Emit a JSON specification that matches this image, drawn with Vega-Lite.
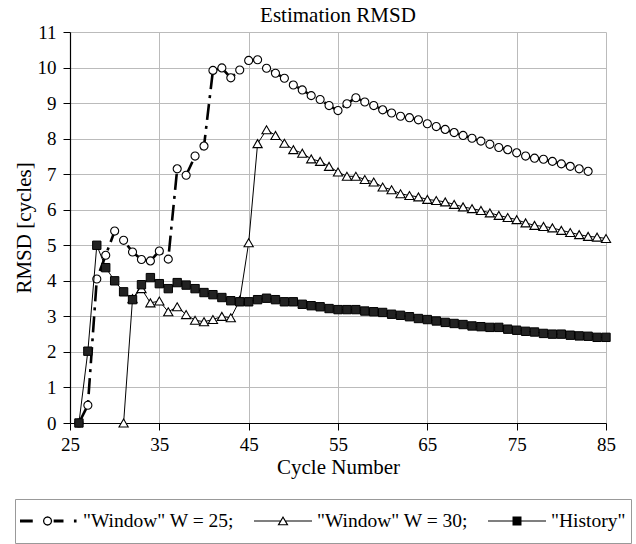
{
  "$schema": "https://vega.github.io/schema/vega-lite/v6.json",
  "width": 536,
  "height": 391,
  "autosize": {"type": "none"},
  "padding": {"left": 70, "top": 32, "right": 30, "bottom": 121},
  "background": "white",
  "config": {"view": {"stroke": null}},
  "title": {"text": "Estimation RMSD", "font": "Liberation Serif", "fontSize": 21, "fontWeight": "normal", "color": "black", "anchor": "middle", "offset": -3},
  "datasets": {
    "rmsd": [
      {"cycle": 26, "series": "\"Window\" W = 25;", "rmsd": 0},
      {"cycle": 27, "series": "\"Window\" W = 25;", "rmsd": 0.5},
      {"cycle": 28, "series": "\"Window\" W = 25;", "rmsd": 4.05},
      {"cycle": 29, "series": "\"Window\" W = 25;", "rmsd": 4.72},
      {"cycle": 30, "series": "\"Window\" W = 25;", "rmsd": 5.4},
      {"cycle": 31, "series": "\"Window\" W = 25;", "rmsd": 5.14},
      {"cycle": 32, "series": "\"Window\" W = 25;", "rmsd": 4.81},
      {"cycle": 33, "series": "\"Window\" W = 25;", "rmsd": 4.6},
      {"cycle": 34, "series": "\"Window\" W = 25;", "rmsd": 4.56},
      {"cycle": 35, "series": "\"Window\" W = 25;", "rmsd": 4.84},
      {"cycle": 36, "series": "\"Window\" W = 25;", "rmsd": 4.61},
      {"cycle": 37, "series": "\"Window\" W = 25;", "rmsd": 7.15},
      {"cycle": 38, "series": "\"Window\" W = 25;", "rmsd": 6.97},
      {"cycle": 39, "series": "\"Window\" W = 25;", "rmsd": 7.51},
      {"cycle": 40, "series": "\"Window\" W = 25;", "rmsd": 7.79},
      {"cycle": 41, "series": "\"Window\" W = 25;", "rmsd": 9.92},
      {"cycle": 42, "series": "\"Window\" W = 25;", "rmsd": 9.99},
      {"cycle": 43, "series": "\"Window\" W = 25;", "rmsd": 9.71},
      {"cycle": 44, "series": "\"Window\" W = 25;", "rmsd": 9.93},
      {"cycle": 45, "series": "\"Window\" W = 25;", "rmsd": 10.2},
      {"cycle": 46, "series": "\"Window\" W = 25;", "rmsd": 10.22},
      {"cycle": 47, "series": "\"Window\" W = 25;", "rmsd": 9.98},
      {"cycle": 48, "series": "\"Window\" W = 25;", "rmsd": 9.84},
      {"cycle": 49, "series": "\"Window\" W = 25;", "rmsd": 9.7},
      {"cycle": 50, "series": "\"Window\" W = 25;", "rmsd": 9.51},
      {"cycle": 51, "series": "\"Window\" W = 25;", "rmsd": 9.37},
      {"cycle": 52, "series": "\"Window\" W = 25;", "rmsd": 9.21},
      {"cycle": 53, "series": "\"Window\" W = 25;", "rmsd": 9.1},
      {"cycle": 54, "series": "\"Window\" W = 25;", "rmsd": 8.93},
      {"cycle": 55, "series": "\"Window\" W = 25;", "rmsd": 8.79},
      {"cycle": 56, "series": "\"Window\" W = 25;", "rmsd": 8.98},
      {"cycle": 57, "series": "\"Window\" W = 25;", "rmsd": 9.15},
      {"cycle": 58, "series": "\"Window\" W = 25;", "rmsd": 9.03},
      {"cycle": 59, "series": "\"Window\" W = 25;", "rmsd": 8.93},
      {"cycle": 60, "series": "\"Window\" W = 25;", "rmsd": 8.81},
      {"cycle": 61, "series": "\"Window\" W = 25;", "rmsd": 8.72},
      {"cycle": 62, "series": "\"Window\" W = 25;", "rmsd": 8.63},
      {"cycle": 63, "series": "\"Window\" W = 25;", "rmsd": 8.59},
      {"cycle": 64, "series": "\"Window\" W = 25;", "rmsd": 8.53},
      {"cycle": 65, "series": "\"Window\" W = 25;", "rmsd": 8.42},
      {"cycle": 66, "series": "\"Window\" W = 25;", "rmsd": 8.34},
      {"cycle": 67, "series": "\"Window\" W = 25;", "rmsd": 8.26},
      {"cycle": 68, "series": "\"Window\" W = 25;", "rmsd": 8.17},
      {"cycle": 69, "series": "\"Window\" W = 25;", "rmsd": 8.09},
      {"cycle": 70, "series": "\"Window\" W = 25;", "rmsd": 8.01},
      {"cycle": 71, "series": "\"Window\" W = 25;", "rmsd": 7.93},
      {"cycle": 72, "series": "\"Window\" W = 25;", "rmsd": 7.84},
      {"cycle": 73, "series": "\"Window\" W = 25;", "rmsd": 7.75},
      {"cycle": 74, "series": "\"Window\" W = 25;", "rmsd": 7.69},
      {"cycle": 75, "series": "\"Window\" W = 25;", "rmsd": 7.6},
      {"cycle": 76, "series": "\"Window\" W = 25;", "rmsd": 7.51},
      {"cycle": 77, "series": "\"Window\" W = 25;", "rmsd": 7.45},
      {"cycle": 78, "series": "\"Window\" W = 25;", "rmsd": 7.42},
      {"cycle": 79, "series": "\"Window\" W = 25;", "rmsd": 7.36},
      {"cycle": 80, "series": "\"Window\" W = 25;", "rmsd": 7.29},
      {"cycle": 81, "series": "\"Window\" W = 25;", "rmsd": 7.22},
      {"cycle": 82, "series": "\"Window\" W = 25;", "rmsd": 7.15},
      {"cycle": 83, "series": "\"Window\" W = 25;", "rmsd": 7.08},
      {"cycle": 31, "series": "\"Window\" W = 30;", "rmsd": 0},
      {"cycle": 32, "series": "\"Window\" W = 30;", "rmsd": 3.5},
      {"cycle": 33, "series": "\"Window\" W = 30;", "rmsd": 3.78},
      {"cycle": 34, "series": "\"Window\" W = 30;", "rmsd": 3.38},
      {"cycle": 35, "series": "\"Window\" W = 30;", "rmsd": 3.43},
      {"cycle": 36, "series": "\"Window\" W = 30;", "rmsd": 3.13},
      {"cycle": 37, "series": "\"Window\" W = 30;", "rmsd": 3.27},
      {"cycle": 38, "series": "\"Window\" W = 30;", "rmsd": 3.05},
      {"cycle": 39, "series": "\"Window\" W = 30;", "rmsd": 2.89},
      {"cycle": 40, "series": "\"Window\" W = 30;", "rmsd": 2.85},
      {"cycle": 41, "series": "\"Window\" W = 30;", "rmsd": 2.91},
      {"cycle": 42, "series": "\"Window\" W = 30;", "rmsd": 3.0},
      {"cycle": 43, "series": "\"Window\" W = 30;", "rmsd": 2.96},
      {"cycle": 44, "series": "\"Window\" W = 30;", "rmsd": 3.45},
      {"cycle": 45, "series": "\"Window\" W = 30;", "rmsd": 5.07},
      {"cycle": 46, "series": "\"Window\" W = 30;", "rmsd": 7.86},
      {"cycle": 47, "series": "\"Window\" W = 30;", "rmsd": 8.25},
      {"cycle": 48, "series": "\"Window\" W = 30;", "rmsd": 8.09},
      {"cycle": 49, "series": "\"Window\" W = 30;", "rmsd": 7.87},
      {"cycle": 50, "series": "\"Window\" W = 30;", "rmsd": 7.69},
      {"cycle": 51, "series": "\"Window\" W = 30;", "rmsd": 7.59},
      {"cycle": 52, "series": "\"Window\" W = 30;", "rmsd": 7.43},
      {"cycle": 53, "series": "\"Window\" W = 30;", "rmsd": 7.36},
      {"cycle": 54, "series": "\"Window\" W = 30;", "rmsd": 7.22},
      {"cycle": 55, "series": "\"Window\" W = 30;", "rmsd": 7.06},
      {"cycle": 56, "series": "\"Window\" W = 30;", "rmsd": 6.94},
      {"cycle": 57, "series": "\"Window\" W = 30;", "rmsd": 6.94},
      {"cycle": 58, "series": "\"Window\" W = 30;", "rmsd": 6.85},
      {"cycle": 59, "series": "\"Window\" W = 30;", "rmsd": 6.78},
      {"cycle": 60, "series": "\"Window\" W = 30;", "rmsd": 6.64},
      {"cycle": 61, "series": "\"Window\" W = 30;", "rmsd": 6.56},
      {"cycle": 62, "series": "\"Window\" W = 30;", "rmsd": 6.45},
      {"cycle": 63, "series": "\"Window\" W = 30;", "rmsd": 6.4},
      {"cycle": 64, "series": "\"Window\" W = 30;", "rmsd": 6.36},
      {"cycle": 65, "series": "\"Window\" W = 30;", "rmsd": 6.29},
      {"cycle": 66, "series": "\"Window\" W = 30;", "rmsd": 6.26},
      {"cycle": 67, "series": "\"Window\" W = 30;", "rmsd": 6.22},
      {"cycle": 68, "series": "\"Window\" W = 30;", "rmsd": 6.15},
      {"cycle": 69, "series": "\"Window\" W = 30;", "rmsd": 6.08},
      {"cycle": 70, "series": "\"Window\" W = 30;", "rmsd": 6.03},
      {"cycle": 71, "series": "\"Window\" W = 30;", "rmsd": 5.98},
      {"cycle": 72, "series": "\"Window\" W = 30;", "rmsd": 5.91},
      {"cycle": 73, "series": "\"Window\" W = 30;", "rmsd": 5.84},
      {"cycle": 74, "series": "\"Window\" W = 30;", "rmsd": 5.78},
      {"cycle": 75, "series": "\"Window\" W = 30;", "rmsd": 5.72},
      {"cycle": 76, "series": "\"Window\" W = 30;", "rmsd": 5.63},
      {"cycle": 77, "series": "\"Window\" W = 30;", "rmsd": 5.56},
      {"cycle": 78, "series": "\"Window\" W = 30;", "rmsd": 5.53},
      {"cycle": 79, "series": "\"Window\" W = 30;", "rmsd": 5.49},
      {"cycle": 80, "series": "\"Window\" W = 30;", "rmsd": 5.42},
      {"cycle": 81, "series": "\"Window\" W = 30;", "rmsd": 5.36},
      {"cycle": 82, "series": "\"Window\" W = 30;", "rmsd": 5.3},
      {"cycle": 83, "series": "\"Window\" W = 30;", "rmsd": 5.25},
      {"cycle": 84, "series": "\"Window\" W = 30;", "rmsd": 5.23},
      {"cycle": 85, "series": "\"Window\" W = 30;", "rmsd": 5.19},
      {"cycle": 26, "series": "\"History\"", "rmsd": 0},
      {"cycle": 27, "series": "\"History\"", "rmsd": 2.02},
      {"cycle": 28, "series": "\"History\"", "rmsd": 5.0},
      {"cycle": 29, "series": "\"History\"", "rmsd": 4.37},
      {"cycle": 30, "series": "\"History\"", "rmsd": 4.0},
      {"cycle": 31, "series": "\"History\"", "rmsd": 3.69},
      {"cycle": 32, "series": "\"History\"", "rmsd": 3.47},
      {"cycle": 33, "series": "\"History\"", "rmsd": 3.89},
      {"cycle": 34, "series": "\"History\"", "rmsd": 4.09},
      {"cycle": 35, "series": "\"History\"", "rmsd": 3.92},
      {"cycle": 36, "series": "\"History\"", "rmsd": 3.78},
      {"cycle": 37, "series": "\"History\"", "rmsd": 3.95},
      {"cycle": 38, "series": "\"History\"", "rmsd": 3.88},
      {"cycle": 39, "series": "\"History\"", "rmsd": 3.78},
      {"cycle": 40, "series": "\"History\"", "rmsd": 3.67},
      {"cycle": 41, "series": "\"History\"", "rmsd": 3.61},
      {"cycle": 42, "series": "\"History\"", "rmsd": 3.53},
      {"cycle": 43, "series": "\"History\"", "rmsd": 3.44},
      {"cycle": 44, "series": "\"History\"", "rmsd": 3.41},
      {"cycle": 45, "series": "\"History\"", "rmsd": 3.41},
      {"cycle": 46, "series": "\"History\"", "rmsd": 3.47},
      {"cycle": 47, "series": "\"History\"", "rmsd": 3.51},
      {"cycle": 48, "series": "\"History\"", "rmsd": 3.47},
      {"cycle": 49, "series": "\"History\"", "rmsd": 3.41},
      {"cycle": 50, "series": "\"History\"", "rmsd": 3.41},
      {"cycle": 51, "series": "\"History\"", "rmsd": 3.34},
      {"cycle": 52, "series": "\"History\"", "rmsd": 3.3},
      {"cycle": 53, "series": "\"History\"", "rmsd": 3.27},
      {"cycle": 54, "series": "\"History\"", "rmsd": 3.22},
      {"cycle": 55, "series": "\"History\"", "rmsd": 3.19},
      {"cycle": 56, "series": "\"History\"", "rmsd": 3.19},
      {"cycle": 57, "series": "\"History\"", "rmsd": 3.19},
      {"cycle": 58, "series": "\"History\"", "rmsd": 3.15},
      {"cycle": 59, "series": "\"History\"", "rmsd": 3.13},
      {"cycle": 60, "series": "\"History\"", "rmsd": 3.11},
      {"cycle": 61, "series": "\"History\"", "rmsd": 3.06},
      {"cycle": 62, "series": "\"History\"", "rmsd": 3.03},
      {"cycle": 63, "series": "\"History\"", "rmsd": 2.99},
      {"cycle": 64, "series": "\"History\"", "rmsd": 2.94},
      {"cycle": 65, "series": "\"History\"", "rmsd": 2.91},
      {"cycle": 66, "series": "\"History\"", "rmsd": 2.87},
      {"cycle": 67, "series": "\"History\"", "rmsd": 2.83},
      {"cycle": 68, "series": "\"History\"", "rmsd": 2.8},
      {"cycle": 69, "series": "\"History\"", "rmsd": 2.77},
      {"cycle": 70, "series": "\"History\"", "rmsd": 2.73},
      {"cycle": 71, "series": "\"History\"", "rmsd": 2.71},
      {"cycle": 72, "series": "\"History\"", "rmsd": 2.69},
      {"cycle": 73, "series": "\"History\"", "rmsd": 2.69},
      {"cycle": 74, "series": "\"History\"", "rmsd": 2.64},
      {"cycle": 75, "series": "\"History\"", "rmsd": 2.61},
      {"cycle": 76, "series": "\"History\"", "rmsd": 2.58},
      {"cycle": 77, "series": "\"History\"", "rmsd": 2.56},
      {"cycle": 78, "series": "\"History\"", "rmsd": 2.52},
      {"cycle": 79, "series": "\"History\"", "rmsd": 2.5},
      {"cycle": 80, "series": "\"History\"", "rmsd": 2.5},
      {"cycle": 81, "series": "\"History\"", "rmsd": 2.47},
      {"cycle": 82, "series": "\"History\"", "rmsd": 2.45},
      {"cycle": 83, "series": "\"History\"", "rmsd": 2.44},
      {"cycle": 84, "series": "\"History\"", "rmsd": 2.41},
      {"cycle": 85, "series": "\"History\"", "rmsd": 2.41}
    ]
  },
  "data": {"name": "rmsd"},
  "encoding": {
    "x": {
      "field": "cycle", "type": "quantitative", "title": "Cycle Number",
      "scale": {"domain": [25, 85], "nice": false, "zero": false},
      "axis": {"values": [25, 35, 45, 55, 65, 75, 85], "grid": true, "gridColor": "#bbbbbb", "gridWidth": 1, "domainColor": "black", "domainWidth": 1.2, "tickColor": "black", "tickSize": 7, "labelPadding": 5, "labelFont": "Liberation Serif", "labelFontSize": 19, "labelColor": "black", "labelFlush": false, "labelOverlap": false, "titleFont": "Liberation Serif", "titleFontSize": 21, "titleFontWeight": "normal", "titleColor": "black", "titlePadding": 2}
    },
    "y": {
      "field": "rmsd", "type": "quantitative", "title": "RMSD [cycles]",
      "scale": {"domain": [0, 11], "nice": false},
      "axis": {"values": [0, 1, 2, 3, 4, 5, 6, 7, 8, 9, 10, 11], "grid": true, "gridColor": "#bbbbbb", "gridWidth": 1, "domainColor": "black", "domainWidth": 1.2, "tickColor": "black", "tickSize": 7, "labelPadding": 7, "labelFont": "Liberation Serif", "labelFontSize": 19, "labelColor": "black", "labelFlush": false, "labelOverlap": false, "titleFont": "Liberation Serif", "titleFontSize": 21, "titleFontWeight": "normal", "titleColor": "black", "titlePadding": 3}
    }
  },
  "layer": [
    {
      "transform": [{"filter": {"field": "series", "equal": "\"Window\" W = 25;"}}],
      "mark": {"type": "line", "stroke": "black", "strokeWidth": 2.6, "strokeDash": [16, 6, 3, 6]}
    },
    {
      "transform": [{"filter": {"field": "series", "equal": "\"Window\" W = 25;"}}],
      "mark": {"type": "point", "shape": "circle", "size": 65, "filled": true, "fill": "white", "stroke": "black", "strokeWidth": 1.1, "opacity": 1}
    },
    {
      "transform": [{"filter": {"field": "series", "equal": "\"Window\" W = 30;"}}],
      "mark": {"type": "line", "stroke": "black", "strokeWidth": 1}
    },
    {
      "transform": [{"filter": {"field": "series", "equal": "\"Window\" W = 30;"}}],
      "mark": {"type": "point", "shape": "triangle-up", "size": 85, "filled": true, "fill": "white", "stroke": "black", "strokeWidth": 1.1, "opacity": 1}
    },
    {
      "transform": [{"filter": {"field": "series", "equal": "\"History\""}}],
      "mark": {"type": "line", "stroke": "black", "strokeWidth": 1}
    },
    {
      "transform": [{"filter": {"field": "series", "equal": "\"History\""}}],
      "mark": {"type": "point", "shape": "square", "size": 70, "filled": true, "fill": "#222222", "stroke": "black", "strokeWidth": 1, "opacity": 1}
    },
    {
      "mark": {"type": "point", "filled": true, "color": "black", "opacity": 0},
      "encoding": {
        "shape": {
          "field": "series", "type": "nominal",
          "scale": {
            "domain": ["\"Window\" W = 25;", "\"Window\" W = 30;", "\"History\""],
            "range": [
              "M-1,-0.05H-0.56V0.05H-1Z M0.11,0L0.0886,0.08L0.03,0.1386L-0.05,0.16L-0.13,0.1386L-0.1886,0.08L-0.21,0L-0.1886,-0.08L-0.13,-0.1386L-0.05,-0.16L0.03,-0.1386L0.0886,-0.08Z M0.065,0L0.0496,-0.0575L0.0075,-0.0996L-0.05,-0.115L-0.1075,-0.0996L-0.1496,-0.0575L-0.165,0L-0.1496,0.0575L-0.1075,0.0996L-0.05,0.115L0.0075,0.0996L0.0496,0.0575Z M0.16,-0.05H0.5V0.05H0.16Z M0.86,-0.05H0.95V0.05H0.86Z",
              "M-1,-0.018H-0.08V0.018H-1Z M0.08,-0.018H1V0.018H0.08Z M0,-0.17L0.19,0.15L-0.19,0.15Z M0,-0.0916L-0.1197,0.11L0.1197,0.11Z",
              "M-1,-0.018H1V0.018H-1Z M-0.155,-0.155H0.155V0.155H-0.155Z"
            ]
          },
          "legend": {
            "title": null, "orient": "none", "legendX": -55, "legendY": 467,
            "direction": "horizontal", "columns": 3,
            "symbolSize": 3364, "clipHeight": 34, "symbolOpacity": 1, "symbolStrokeWidth": 0,
            "labelFont": "Liberation Serif", "labelFontSize": 19.5, "labelColor": "black", "labelOffset": 5, "labelLimit": 0,
            "columnPadding": 19, "padding": 5, "strokeColor": "#999999", "fillColor": "white"
          }
        }
      }
    }
  ]
}
